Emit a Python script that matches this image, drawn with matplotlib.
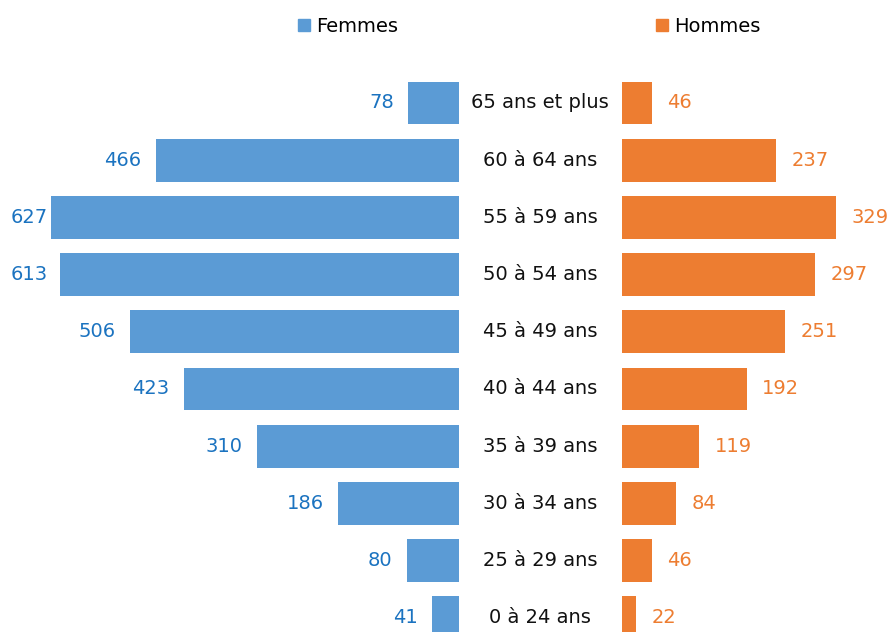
import matplotlib.pyplot as plt
import numpy as np
from matplotlib.patches import Patch

ages = ["65 ans et plus", "60 à 64 ans", "55 à 59 ans", "50 à 54 ans", "45 à 49 ans",
        "40 à 44 ans", "35 à 39 ans", "30 à 34 ans", "25 à 29 ans", "0 à 24 ans"]
femmes = [78, 466, 627, 613, 506, 423, 310, 186, 80, 41]
hommes = [46, 237, 329, 297, 251, 192, 119, 84, 46, 22]

blue = "#5B9BD5"
orange = "#ED7D31"
blue_txt = "#1B73C0"
fs = 14

gap = 125  # half-width of the central label column, in data units
xmin, xmax = -830, 534
y = np.arange(len(ages))

fig = plt.figure(figsize=(8.88, 6.32), dpi=100)
ax = fig.add_axes([0, 0, 1, 1])

ax.barh(y, [-v for v in femmes], left=-gap, height=0.75, color=blue)
ax.barh(y, hommes, left=gap, height=0.75, color=orange)

for i in range(len(ages)):
    ax.text(0, y[i], ages[i], ha="center", va="center", fontsize=fs, color="#111111")
    # labels that would fall outside the chart are pushed back inside, like Excel does
    xf = max(-gap - femmes[i] - 22, xmin + 74)
    ax.text(xf, y[i], str(femmes[i]), ha="right", va="center",
            fontsize=fs, color=blue_txt)
    ax.text(gap + hommes[i] + 24, y[i], str(hommes[i]), ha="left", va="center",
            fontsize=fs, color=orange)

ax.set_xlim(xmin, xmax)
ax.set_ylim(9.248, -1.80)
ax.axis("off")

handles = [Patch(color=blue, label="Femmes"), Patch(color=orange, label="Hommes")]
fig.legend(handles=handles, loc="center", bbox_to_anchor=(0.596, 0.958), ncol=2,
           frameon=False, fontsize=fs, handlelength=0.62, handleheight=0.62,
           handletextpad=0.3, columnspacing=13.3)

fig.savefig("out.png", dpi=100)
